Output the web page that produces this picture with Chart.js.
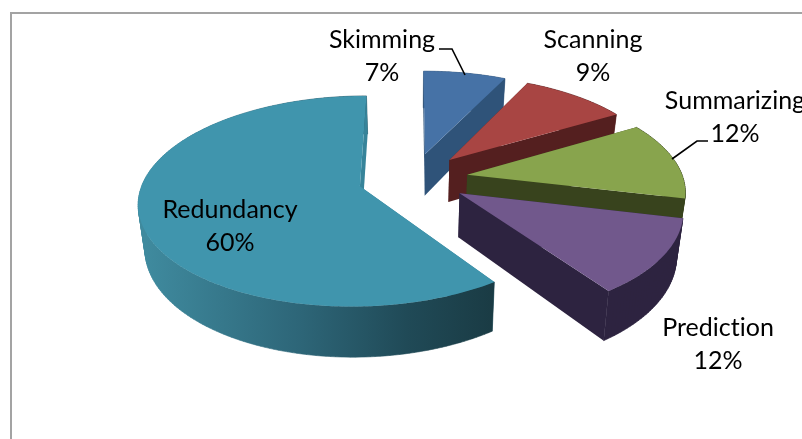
<!DOCTYPE html>
<html lang="en">
<head>
  <meta charset="UTF-8" />
  <title>Reading strategies pie</title>
  <script src="https://cdn.jsdelivr.net/npm/chart.js"></script>
  <style>
    html, body { margin: 0; padding: 0; background: #fff; overflow: hidden; }
    canvas { display: block; }
  </style>
</head>
<body>
<canvas id="pie" width="802" height="439"></canvas>

<script>
const categories = ['Skimming', 'Scanning', 'Summarizing', 'Prediction', 'Redundancy'];
// the labels show them rounded
const shares = [7.2, 9.3, 12.2, 11.6, 59.7];

const topColors = ['#4672a6', '#a84543', '#88a44d', '#71588c', '#4095ad'];
const wallColors = ['#2f5379', '#541f1f', '#38431d', '#2d2340', '#37849a'];

// where the pie sits on the page, Excel style perspective
const view = { x0: 413, y0: 178.5, rx: 216, ry: 101, persp: 0.14, depth: 43, shrink: 0.975, explode: 0.255 };

// text centres and leader lines, same order as categories
const labelSpots = [[382, 40], [593, 40], [735, 101], [718, 328], [230, 210]];
const leaders = [
  [[439, 49], [452, 49], [465, 75]],
  null,
  [[708, 141], [697, 141], [672, 159]],
  null,
  null
];

function project(u, v, bottom) {
  const p = 1 / (1 - view.persp * v);
  let x = view.x0 + view.rx * u * p;
  let y = view.y0 + view.ry * v * p;
  if (bottom) {
    x = view.x0 + (x - view.x0) * view.shrink;
    y += view.depth * p;
  }
  return [x, y];
}

function tracePoly(ctx, pts) {
  pts.forEach((pt, i) => i ? ctx.lineTo(pt[0], pt[1]) : ctx.moveTo(pt[0], pt[1]));
  ctx.closePath();
}

function fillPoly(ctx, pts, color) {
  ctx.beginPath();
  tracePoly(ctx, pts);
  ctx.fillStyle = color;
  ctx.fill();
}

function area(pts) {
  let sum = 0;
  pts.forEach((pt, i) => {
    const next = pts[(i + 1) % pts.length];
    sum += pt[0] * next[1] - next[0] * pt[1];
  });
  return sum;
}

const pie3d = {
  id: 'pie3d',
  beforeDatasetsDraw(chart) {
    const ctx = chart.ctx;
    ctx.save();

    // frame: only left and top show in the crop
    ctx.strokeStyle = '#a3a3a3';
    ctx.lineWidth = 2;
    ctx.beginPath();
    ctx.moveTo(11, 439);
    ctx.lineTo(11, 13);
    ctx.lineTo(802, 13);
    ctx.stroke();

    chart.getDatasetMeta(0).data.forEach((arc, i) => {
      const a0 = arc.startAngle, a1 = arc.endAngle, mid = (a0 + a1) / 2;
      const cu = Math.cos(mid) * view.explode, cv = Math.sin(mid) * view.explode;

      const rim = [];
      const steps = Math.ceil((a1 - a0) / 0.02);
      for (let s = 0; s <= steps; s++) {
        const a = a0 + (a1 - a0) * s / steps;
        rim.push([cu + Math.cos(a), cv + Math.sin(a)]);
      }

      const cutFace = q => fillPoly(ctx, [
        project(cu, cv, false), project(q[0], q[1], false),
        project(q[0], q[1], true), project(cu, cv, true)
      ], wallColors[i]);

      cutFace(rim[0]);

      // outer wall: all strips in one path, same winding, so no seams show
      let wallFill = wallColors[i];
      if (categories[i] === 'Redundancy') {
        wallFill = ctx.createLinearGradient(146, 0, 494, 0);
        wallFill.addColorStop(0, '#3f8a9e');
        wallFill.addColorStop(0.45, '#2d6577');
        wallFill.addColorStop(0.75, '#204a57');
        wallFill.addColorStop(1, '#1a3b44');
      }
      ctx.beginPath();
      for (let s = 0; s < steps; s++) {
        const q = rim[s], r = rim[s + 1];
        const quad = [
          project(q[0], q[1], false), project(r[0], r[1], false),
          project(r[0], r[1], true), project(q[0], q[1], true)
        ];
        tracePoly(ctx, area(quad) < 0 ? quad.reverse() : quad);
      }
      ctx.fillStyle = wallFill;
      ctx.fill();
      ctx.strokeStyle = wallFill;
      ctx.lineWidth = 0.6;
      ctx.stroke();

      cutFace(rim[rim.length - 1]);

      // top face
      fillPoly(ctx, [project(cu, cv, false)].concat(rim.map(q => project(q[0], q[1], false))), topColors[i]);
    });

    // labels and leaders
    ctx.strokeStyle = '#000';
    ctx.lineWidth = 1.6;
    leaders.forEach(line => {
      if (!line) return;
      ctx.beginPath();
      line.forEach((pt, i) => i ? ctx.lineTo(pt[0], pt[1]) : ctx.moveTo(pt[0], pt[1]));
      ctx.stroke();
    });
    ctx.fillStyle = '#000';
    ctx.font = '25px Lato';
    ctx.letterSpacing = '0.01px'; // stops the "ti" ligature
    ctx.textAlign = 'center';
    ctx.textBaseline = 'middle';
    categories.forEach((name, i) => {
      const [x, y] = labelSpots[i];
      ctx.fillText(name, x, y);
      ctx.fillText(Math.round(shares[i]) + '%', x, y + 33);
    });

    ctx.restore();
    return false; // arcs are replaced by the 3d faces above
  }
};

new Chart(document.getElementById('pie'), {
  type: 'pie',
  data: { labels: categories, datasets: [{ data: shares, backgroundColor: topColors, borderWidth: 0 }] },
  options: {
    responsive: false,
    animation: false,
    rotation: 0,
    plugins: { legend: { display: false }, tooltip: { enabled: false } }
  },
  plugins: [pie3d]
});
</script>
</body>
</html>
